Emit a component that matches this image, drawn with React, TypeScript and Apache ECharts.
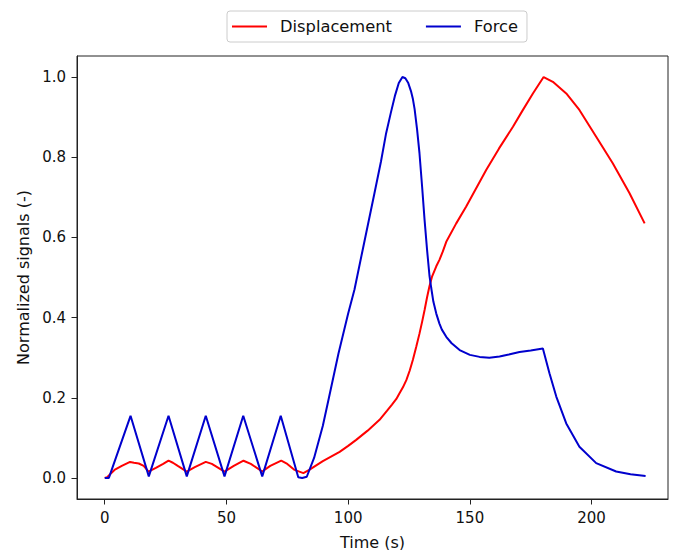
import React, { useEffect, useRef } from "react";
import * as echarts from "echarts";

const seriesNames = ["Displacement", "Force"];

const dispTime = [0, 1, 4, 7, 10.4, 12, 14, 16, 18, 21, 24, 26.2, 28, 30, 33.7, 37, 41.5, 44, 49.2, 53, 57, 60, 64.7, 68, 72.5, 75, 78, 81.6, 84, 89.6, 96.5, 100, 103.3, 108, 112.9, 116, 118, 119.8, 121.1, 122.5, 123.9, 125.3, 126.6, 128, 129.3, 130.4, 131.4, 132.4, 133.4, 134.5, 136.2, 137.5, 138.9, 140.3, 144.4, 148.5, 156.7, 162, 167.7, 171.5, 175.9, 180.3, 184.1, 189.6, 195, 201.9, 208.7, 215.6, 221.8];
const dispValues = [0.0, 0.002, 0.02, 0.03, 0.04, 0.038, 0.036, 0.03, 0.016, 0.025, 0.035, 0.043, 0.038, 0.03, 0.016, 0.027, 0.04, 0.035, 0.016, 0.03, 0.043, 0.035, 0.016, 0.03, 0.043, 0.035, 0.02, 0.012, 0.02, 0.042, 0.065, 0.08, 0.095, 0.118, 0.145, 0.168, 0.183, 0.197, 0.211, 0.226, 0.244, 0.268, 0.295, 0.328, 0.36, 0.39, 0.419, 0.45, 0.478, 0.503, 0.528, 0.544, 0.565, 0.589, 0.635, 0.677, 0.768, 0.822, 0.876, 0.915, 0.959, 1.0, 0.988, 0.959, 0.918, 0.851, 0.785, 0.71, 0.635];

const forceTime = [0, 1.7, 10.6, 18.1, 26.2, 33.7, 41.5, 49.2, 56.9, 64.7, 72.3, 79.5, 81.1, 83.0, 86, 89.6, 92.1, 96, 100, 102.6, 106, 110.8, 113.5, 115.6, 117.5, 119.3, 120.8, 122.3, 123.5, 124.7, 125.8, 126.6, 127.3, 128.3, 129.3, 130.4, 131.4, 132.4, 133.4, 134.1, 135, 136.2, 137.5, 138.5, 140.3, 142.5, 145.8, 150, 154, 158, 162.2, 166, 170.4, 175, 180, 182.7, 185.5, 189.6, 195, 201.9, 210.1, 216, 222.2];
const forceValues = [0.0, 0.0, 0.155, 0.004, 0.155, 0.004, 0.155, 0.004, 0.155, 0.004, 0.155, 0.002, 0.0, 0.003, 0.05, 0.13, 0.2, 0.31, 0.41, 0.47, 0.57, 0.71, 0.79, 0.86, 0.91, 0.955, 0.985, 1.0, 0.997, 0.985, 0.965, 0.945, 0.92, 0.87, 0.81, 0.725, 0.643, 0.57, 0.505, 0.475, 0.44, 0.41, 0.385, 0.37, 0.352, 0.336, 0.319, 0.307, 0.302, 0.3, 0.303, 0.308, 0.314, 0.318, 0.323, 0.261, 0.203, 0.136, 0.078, 0.037, 0.016, 0.009, 0.005];

const xTicks = [0, 50, 100, 150, 200];
const yTicks = [0, 0.2, 0.4, 0.6, 0.8, 1.0];

const FONT = "DejaVu Sans";

export default function App() {
  const ref = useRef<HTMLDivElement>(null);
  useEffect(() => {
    if (!ref.current) return;
    const chart = echarts.init(ref.current, undefined, { renderer: "svg" });
    const toPairs = (t: number[], v: number[]) => t.map((x, i) => [x, v[i]]);
    chart.setOption({
      animation: false,
      backgroundColor: "#ffffff",
      textStyle: { fontFamily: FONT },
      grid: {
        left: 77,
        right: 8,
        top: 56,
        bottom: 51,
        show: true,
        borderColor: "#222",
        borderWidth: 1,
        containLabel: false,
        outerBoundsMode: "none",
      },
      legend: {
        data: seriesNames,
        left: 227,
        top: 11,
        icon: "rect",
        itemWidth: 35,
        itemHeight: 2,
        itemGap: 34,
        padding: [7, 9, 7, 5],
        borderColor: "#cccccc",
        borderWidth: 1,
        borderRadius: 3,
        textStyle: {
          fontFamily: FONT,
          fontSize: 16.3,
          color: "#111",
          padding: [0, 0, 0, 8],
          lineHeight: 17,
        },
      },
      xAxis: {
        type: "value",
        position: "bottom",
        min: -11.4,
        max: 231.4,
        name: "Time (s)",
        nameLocation: "middle",
        nameGap: 35,
        nameTextStyle: { fontFamily: FONT, fontSize: 16, color: "#111" },
        axisLine: { show: true, onZero: false, lineStyle: { color: "#222", width: 1 } },
        axisTick: {
          show: true,
          length: 5.5,
          lineStyle: { color: "#222", width: 1 },
          customValues: xTicks,
        },
        axisLabel: {
          margin: 11,
          fontFamily: FONT,
          fontSize: 15,
          color: "#111",
          customValues: xTicks,
          formatter: (v: number) => String(v),
        },
        splitLine: { show: false },
      },
      yAxis: {
        type: "value",
        position: "left",
        min: -0.0525,
        max: 1.0525,
        name: "Normalized signals (-)",
        nameLocation: "middle",
        nameGap: 45,
        nameTextStyle: { fontFamily: FONT, fontSize: 16, color: "#111" },
        axisLine: { show: true, onZero: false, lineStyle: { color: "#222", width: 1 } },
        axisTick: {
          show: true,
          length: 5.5,
          lineStyle: { color: "#222", width: 1 },
          customValues: yTicks,
        },
        axisLabel: {
          margin: 11,
          fontFamily: FONT,
          fontSize: 15,
          color: "#111",
          customValues: yTicks,
          formatter: (v: number) => v.toFixed(1),
        },
        splitLine: { show: false },
      },
      series: [
        {
          name: seriesNames[0],
          type: "line",
          data: toPairs(dispTime, dispValues),
          showSymbol: false,
          symbol: "none",
          lineStyle: { color: "#ff0000", width: 2 },
          itemStyle: { color: "#ff0000" },
          z: 2,
        },
        {
          name: seriesNames[1],
          type: "line",
          data: toPairs(forceTime, forceValues),
          showSymbol: false,
          symbol: "none",
          lineStyle: { color: "#0000cd", width: 2 },
          itemStyle: { color: "#0000cd" },
          z: 3,
        },
      ],
    });
    return () => chart.dispose();
  }, []);
  return <div ref={ref} style={{ width: 676, height: 550, position: "absolute", left: 0, top: 0 }} />;
}
